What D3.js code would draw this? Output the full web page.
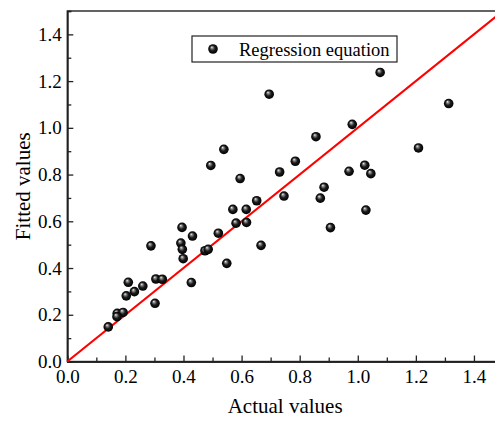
<!DOCTYPE html>
<html>
<head>
<meta charset="utf-8">
<script src="https://cdn.jsdelivr.net/npm/d3@7/dist/d3.min.js"></script>
<style>
  html, body { margin: 0; padding: 0; background: #fff; }
  svg { display: block; }
  text { font-family: "Liberation Serif", "Times New Roman", serif; fill: #000; }
</style>
</head>
<body>
<svg id="chart" width="495" height="421"></svg>
<script>
// Measured (actual) and model-fitted values
const actual = [0.141, 0.172, 0.192, 0.171, 0.203, 0.210, 0.231, 0.260, 0.288, 0.302,
  0.305, 0.327, 0.395, 0.391, 0.396, 0.399, 0.431, 0.427, 0.474, 0.485,
  0.520, 0.549, 0.570, 0.581, 0.616, 0.617, 0.494, 0.539, 0.595, 0.652,
  0.667, 0.695, 0.731, 0.746, 0.785, 0.856, 0.884, 0.871, 0.906, 0.970,
  0.981, 1.024, 1.045, 1.028, 1.077, 1.209, 1.313];
const fitted = [0.148, 0.206, 0.210, 0.192, 0.281, 0.339, 0.299, 0.323, 0.495, 0.249,
  0.353, 0.352, 0.574, 0.507, 0.480, 0.440, 0.537, 0.338, 0.474, 0.480,
  0.549, 0.420, 0.651, 0.592, 0.651, 0.595, 0.839, 0.908, 0.783, 0.688,
  0.497, 1.144, 0.811, 0.708, 0.857, 0.962, 0.746, 0.699, 0.573, 0.814,
  1.015, 0.840, 0.804, 0.648, 1.237, 0.914, 1.104];

const axisDomain = [0, 1.5];
const majorTicks = [0, 0.2, 0.4, 0.6, 0.8, 1.0, 1.2, 1.4];
const minorTicks = [0.1, 0.3, 0.5, 0.7, 0.9, 1.1, 1.3, 1.5];
const legendLabel = "Regression equation";
const xTitle = "Actual values";
const yTitle = "Fitted values";

const svg = d3.select("#chart");
const plotLeft = 67.3, plotTop = 11, plotRight = 503, plotBottom = 361.5;

const x = d3.scaleLinear().domain(axisDomain).range([plotLeft, plotRight]);
const y = d3.scaleLinear().domain(axisDomain).range([plotBottom, plotTop]);

// Shaded sphere marker
const defs = svg.append("defs");
const grad = defs.append("radialGradient").attr("id", "ball")
  .attr("cx", "50%").attr("cy", "50%").attr("r", "50%")
  .attr("fx", "36%").attr("fy", "30%");
grad.append("stop").attr("offset", "0%").attr("stop-color", "#f4f4f4");
grad.append("stop").attr("offset", "22%").attr("stop-color", "#8a8a8a");
grad.append("stop").attr("offset", "55%").attr("stop-color", "#1c1c1c");
grad.append("stop").attr("offset", "100%").attr("stop-color", "#000");

// Plot frame
svg.append("rect")
  .attr("x", plotLeft).attr("y", plotTop)
  .attr("width", plotRight - plotLeft).attr("height", plotBottom - plotTop)
  .attr("fill", "none").attr("stroke", "#222").attr("stroke-width", 1.4);

function styleAxis(g) {
  g.attr("font-family", null);
  g.selectAll("path.domain").attr("stroke", "#222").attr("stroke-width", 1.4);
  g.selectAll(".tick line").attr("stroke", "#222").attr("stroke-width", 1.3);
  g.selectAll("text").style("font-size", "19px")
    .style("font-family", '"Liberation Serif", "Times New Roman", serif').attr("fill", "#000");
}

// Minor ticks
svg.append("g").attr("transform", `translate(0,${plotBottom})`)
  .call(d3.axisBottom(x).tickValues(minorTicks).tickSize(-4).tickFormat(""))
  .call(styleAxis);
svg.append("g").attr("transform", `translate(${plotLeft},0)`)
  .call(d3.axisLeft(y).tickValues(minorTicks).tickSize(-4).tickFormat(""))
  .call(styleAxis);

// Major ticks with labels
svg.append("g").attr("transform", `translate(0,${plotBottom})`)
  .call(d3.axisBottom(x).tickValues(majorTicks).tickSize(-6).tickSizeOuter(0)
    .tickPadding(8).tickFormat(d3.format(".1f")))
  .call(styleAxis);
svg.append("g").attr("transform", `translate(${plotLeft},0)`)
  .call(d3.axisLeft(y).tickValues(majorTicks).tickSize(-6).tickSizeOuter(0)
    .tickPadding(5.5).tickFormat(d3.format(".1f")))
  .call(styleAxis);

// Axis titles
svg.append("text")
  .attr("x", (plotLeft + plotRight) / 2).attr("y", 413)
  .attr("text-anchor", "middle").style("font-size", "21px")
  .text(xTitle);
svg.append("text")
  .attr("transform", `translate(30,${(plotTop + plotBottom) / 2}) rotate(-90)`)
  .attr("text-anchor", "middle").style("font-size", "21px")
  .text(yTitle);

// Reference line y = x
svg.append("line")
  .attr("x1", x(axisDomain[0])).attr("y1", y(axisDomain[0]))
  .attr("x2", x(axisDomain[1])).attr("y2", y(axisDomain[1]))
  .attr("stroke", "#ff0000").attr("stroke-width", 2.2);

// Data points
svg.append("g").selectAll("circle")
  .data(actual.map((a, i) => [a, fitted[i]]))
  .join("circle")
  .attr("cx", d => x(d[0])).attr("cy", d => y(d[1]))
  .attr("r", 4.8).attr("fill", "url(#ball)");

// Legend
const lg = svg.append("g");
lg.append("rect").attr("x", 192).attr("y", 36).attr("width", 205).attr("height", 26)
  .attr("fill", "#fff").attr("stroke", "#222").attr("stroke-width", 1.2);
lg.append("circle").attr("cx", 213).attr("cy", 49).attr("r", 4.8).attr("fill", "url(#ball)");
lg.append("text").attr("x", 239).attr("y", 55.5).style("font-size", "18.5px").text(legendLabel);
</script>
</body>
</html>
